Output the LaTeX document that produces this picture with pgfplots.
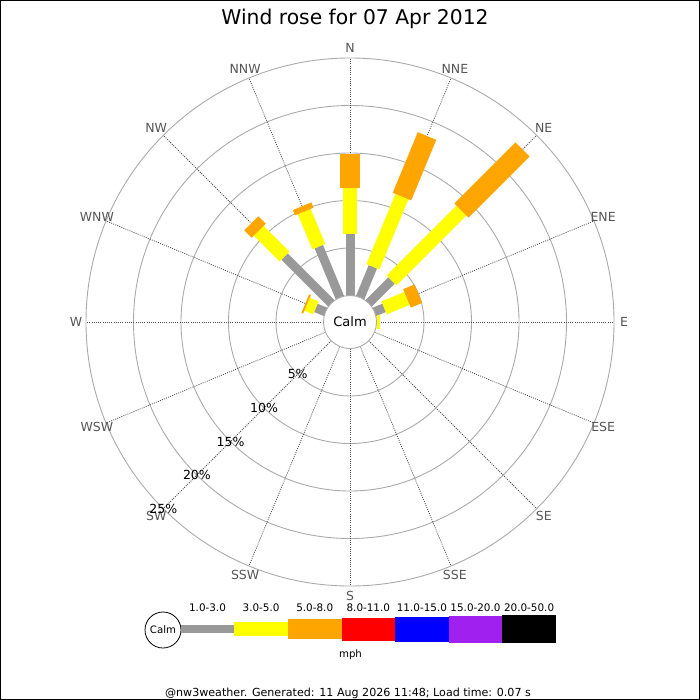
\documentclass[border=0pt]{standalone}
\usepackage{pgfplots}
\pgfplotsset{compat=1.18}
\usepackage{pgfplotstable}
\usepgfplotslibrary{polar}
\usepackage{fontspec}
\setmainfont{DejaVu Sans}

\definecolor{cgray}{RGB}{153,153,153}
\definecolor{cyellow}{RGB}{255,255,0}
\definecolor{corange}{RGB}{255,165,0}
\definecolor{cred}{RGB}{255,0,0}
\definecolor{cblue}{RGB}{0,0,255}
\definecolor{cpurple}{RGB}{160,32,240}
\definecolor{clab}{RGB}{85,85,85}
\definecolor{cring}{RGB}{170,170,170}
\definecolor{cspoke}{RGB}{80,80,80}

% cumulative frequencies (%) at the end of each speed band
\pgfplotstableread{
dir   g     y      o
0     6.47  11.35  14.86
22.5  3.5   11.5   18.4
45    3.4   13.8   22.9
67.5  1.1   3.7    5.0
90    0     0.35   0.35
292.5 1.1   2.1    2.3
315   6.96  10.8   11.9
337.5 5.8   9.8    10.4
}\rosedata

\newcommand\fs[1]{\fontsize{#1bp}{#1bp}\selectfont}

\begin{document}
\begin{tikzpicture}[x=1bp,y=-1bp]
\useasboundingbox (0,0) rectangle (700,700);
\fill[white] (0,0) rectangle (700,700);

% rings
\foreach \r in {74,121.5,169,216.5,264}
  \draw[cring, line width=0.9bp] (350,322) circle[radius=\r bp];
% spokes
\foreach \i in {0,...,15}{
  \pgfmathsetmacro\a{22.5*\i}
  \draw[cspoke, line width=0.8bp, dash pattern=on 1bp off 1.2bp]
    ({350+26.5*sin(\a)},{322-26.5*cos(\a)}) -- ({350+264*sin(\a)},{322-264*cos(\a)});
}

\begin{axis}[at={(350bp,-322bp)}, anchor=origin, x=9.5bp, y=9.5bp,
  xmin=-30, xmax=30, ymin=-30, ymax=30, hide axis, clip=false]
\pgfplotstablegetrowsof{\rosedata}
\pgfmathtruncatemacro\nrows{\pgfplotsretval-1}
\def\off{2.7895}
\pgfplotsforeachungrouped \i in {0,...,\nrows}{%
  \pgfplotstablegetelem{\i}{dir}\of\rosedata \let\dd=\pgfplotsretval
  \pgfplotstablegetelem{\i}{g}\of\rosedata \let\gg=\pgfplotsretval
  \pgfplotstablegetelem{\i}{y}\of\rosedata \let\yy=\pgfplotsretval
  \pgfplotstablegetelem{\i}{o}\of\rosedata \let\oo=\pgfplotsretval
  \pgfmathsetmacro\ang{90-\dd}%
  \pgfmathsetmacro\rz{\off}%
  \pgfmathsetmacro\rg{\gg+\off}%
  \pgfmathsetmacro\ry{\yy+\off}%
  \pgfmathsetmacro\ro{\oo+\off}%
  \edef\tmp{%
    \noexpand\addplot[draw=cgray, line width=9bp, data cs=polar, forget plot] coordinates {(\ang,\rz) (\ang,\rg)};
    \noexpand\addplot[draw=cyellow, line width=14bp, data cs=polar, forget plot] coordinates {(\ang,\rg) (\ang,\ry)};
    \noexpand\addplot[draw=corange, line width=20bp, data cs=polar, forget plot] coordinates {(\ang,\ry) (\ang,\ro)};
  }\tmp
}
\end{axis}

% calm circle
\draw[cring, fill=white, line width=0.9bp] (350,322) circle[radius=26.5bp];
\node[anchor=center, inner sep=0] at (350,322) {\fs{13}Calm};

% direction labels
\foreach \lab [count=\i from 0] in {N,NNE,NE,ENE,E,ESE,SE,SSE,S,SSW,SW,WSW,W,WNW,NW,NNW}{
  \pgfmathsetmacro\a{22.5*\i}
  \node[anchor=center, inner sep=0, text=clab] at ({350+274*sin(\a)},{322-274*cos(\a)}) {\fs{12.5}\lab};
}
% percentage labels
\foreach \p [count=\k] in {5,10,15,20,25}{
  \pgfmathsetmacro\rr{26.5+47.5*\k}
  \node[anchor=center, inner sep=0] at ({350-0.7071*\rr},{322+0.7071*\rr}) {\fs{12.5}\p\%};
}

% title
\node[anchor=base, inner sep=0] at (355,25) {\fs{20.3}Wind rose for 07 Apr 2012};

% legend
\draw[black, fill=white, line width=0.8bp] (163,630) circle[radius=18bp];
\node[anchor=center, inner sep=0] at (163,630) {\fs{10.2}Calm};
\fill[cgray]   (180.7,625.2) rectangle (234.3,633.2);
\fill[cyellow] (234.3,622.2) rectangle (287.9,636.2);
\fill[corange] (287.9,619.2) rectangle (341.5,639.2);
\fill[cred]    (341.5,617.7) rectangle (395.1,640.7);
\fill[cblue]   (395.1,616.7) rectangle (448.7,641.7);
\fill[cpurple] (448.7,615.7) rectangle (502.3,642.7);
\fill[black]   (502.3,615.2) rectangle (555.9,643.2);
\foreach \lab [count=\k from 0] in {1.0-3.0,3.0-5.0,5.0-8.0,8.0-11.0,11.0-15.0,15.0-20.0,20.0-50.0}{
  \node[anchor=base, inner sep=0] at ({207.5+53.6*\k},611) {\fs{10.4}\lab};
}
\node[anchor=base, inner sep=0] at (350.5,657.5) {\fs{10.2}mph};

% footer
\node[anchor=base, inner sep=0] at (348,696.5) {\fs{11.1}@nw3weather. Generated: 11 Aug 2026 11:48; Load time: 0.07 s};

% frame
\draw[black, line width=1.2bp] (0.6,0.6) rectangle (699.4,699.4);
\end{tikzpicture}
\end{document}
